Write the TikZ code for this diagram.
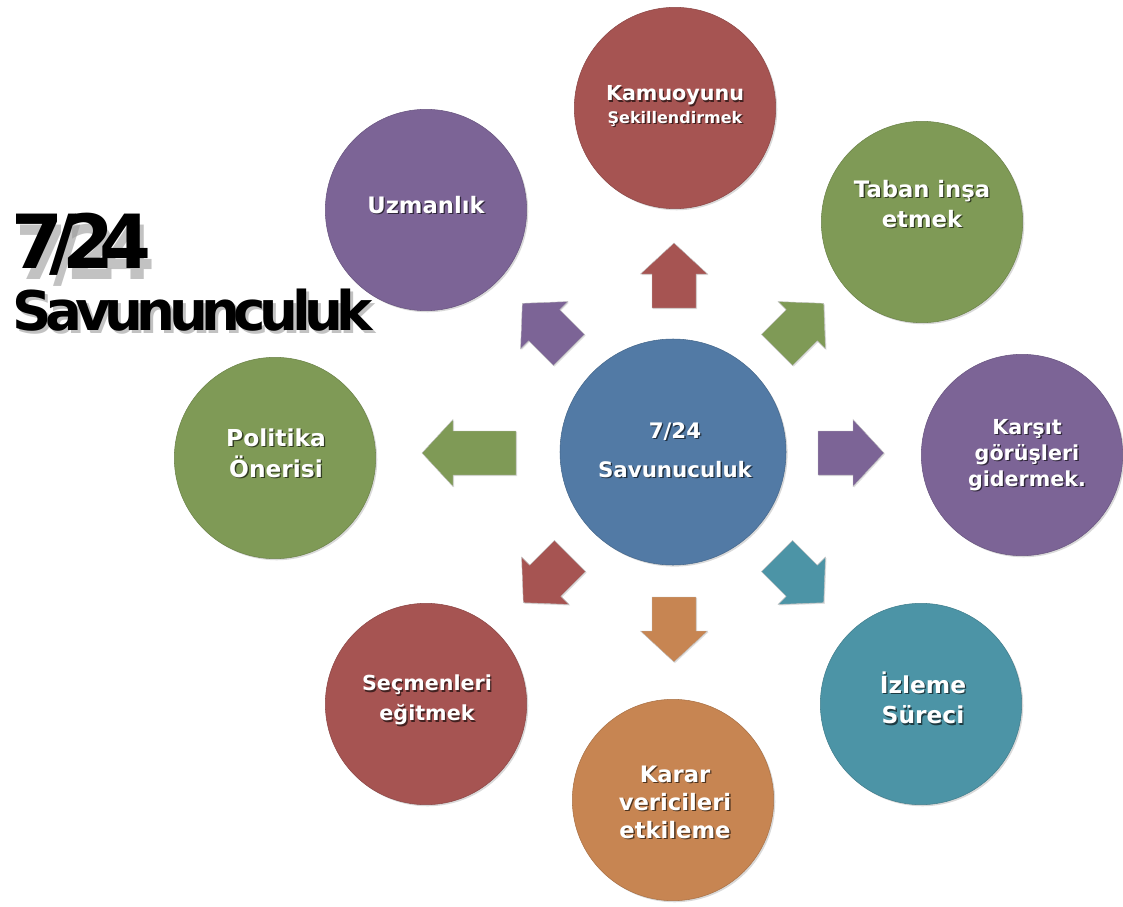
\documentclass[tikz,border=0pt]{standalone}
\usepackage{fontspec}
\setmainfont{DejaVu Sans}
\usetikzlibrary{shadows}
\definecolor{cblue}{RGB}{82,122,165}
\definecolor{cred}{RGB}{166,84,82}
\definecolor{cpurp}{RGB}{124,100,150}
\definecolor{cgreen}{RGB}{127,154,86}
\definecolor{cteal}{RGB}{76,148,166}
\definecolor{corange}{RGB}{199,133,82}
\newcommand{\ctext}[4][]{%
  \node[ctxt,#1,text=black,text opacity=0.6,xshift=1pt,yshift=-1.1pt] (#2s) at (#3) {#4};
  \node[ctxt,#1] (#2) at (#3) {#4};}
\newcommand{\tk}{\kern-.12em}
\newcommand{\tkk}{\kern-.19em}
\tikzset{
  circ/.style={circle, minimum size=151pt, inner sep=0pt, draw=#1!85!black, line width=0.4pt, fill=#1,
    drop shadow={opacity=0.3, shadow xshift=1.2pt, shadow yshift=-1.2pt}},
  ctxt/.style={text=white, font=\bfseries\fontsize{17}{22.5}\selectfont, align=center, inner sep=0pt},
  barrow/.pic={\path[pic actions, draw=black!25, line width=0.3pt, drop shadow={opacity=0.25, shadow xshift=0.8pt, shadow yshift=-0.8pt}]
     (0,-22) -- (#1-31,-22) -- (#1-31,-33.5) -- (#1,0) -- (#1-31,33.5) -- (#1-31,22) -- (0,22) -- cycle;}
}
\begin{document}
\begin{tikzpicture}[x=0.75pt,y=-0.75pt]
\useasboundingbox (0,0) rectangle (1123,906);

% title
\node[anchor=base west, inner sep=0pt, font=\bfseries\fontsize{56}{56}\selectfont, text=black!40, opacity=0.6] (titAs) at (15,279) {7\tkk/\tkk2\tkk4};
\node[anchor=base west, inner sep=0pt, font=\bfseries\fontsize{56}{56}\selectfont] (titA) at (11,268) {7\tkk/\tkk2\tkk4};
\node[anchor=base west, inner sep=0pt, font=\bfseries\fontsize{41}{41}\selectfont, text=black!40, opacity=0.6] (titBs) at (15,333) {S\tk a\tk v\tk u\tk n\tk u\tk n\tk c\tk u\tk l\tk u\tk k};
\node[anchor=base west, inner sep=0pt, font=\bfseries\fontsize{41}{41}\selectfont] (titB) at (12,330) {S\tk a\tk v\tk u\tk n\tk u\tk n\tk c\tk u\tk l\tk u\tk k};

% circles
\node[circ=cblue, minimum size=169.5pt] (cen) at (673,452) {};
\node[circ=cred] (kamu) at (675,108) {};
\node[circ=cpurp] (uzm) at (426,210) {};
\node[circ=cgreen] (tab) at (922,222) {};
\node[circ=cgreen] (pol) at (275,458) {};
\node[circ=cpurp] (kar) at (1022,455) {};
\node[circ=cred] (sec) at (426,704) {};
\node[circ=cteal] (izl) at (921,704) {};
\node[circ=corange] (krr) at (673,800) {};

% arrows
\pic (aU)  [rotate=90,   fill=cred]    at (674,308) {barrow=65};
\pic (aD)  [rotate=-90,  fill=corange] at (674,597) {barrow=65};
\pic (aL)  [rotate=180,  fill=cgreen]  at (516,453) {barrow=94};
\pic (aR)  [rotate=0,    fill=cpurp]   at (818,453) {barrow=66};
\pic (aNW) [rotate=135,  fill=cpurp]   at (569,350) {barrow=66};
\pic (aNE) [rotate=45,   fill=cgreen]  at (777,350) {barrow=66};
\pic (aSW) [rotate=-135, fill=cred]    at (570,556) {barrow=66};
\pic (aSE) [rotate=-45,  fill=cteal]   at (777,556) {barrow=66};

% texts
\ctext[font=\bfseries\fontsize{16}{29}\selectfont]{tcen}{675,450}{7/24\\Savunuculuk}
\ctext[font=\bfseries\fontsize{15.5}{17}\selectfont]{tkamu}{675,106}{Kamuoyunu\\{\fontsize{12}{17}\selectfont Şekillendirmek}}
\ctext{tuzm}{426,205}{Uzmanlık}
\ctext{ttab}{922,204}{Taban inşa\\etmek}
\ctext[font=\bfseries\fontsize{17.5}{23}\selectfont]{tpol}{276,453}{Politika\\Önerisi}
\ctext[font=\bfseries\fontsize{15.5}{19.5}\selectfont]{tkar}{1027,455}{Karşıt\\görüşleri\\gidermek.}
\ctext[font=\bfseries\fontsize{15.5}{22.5}\selectfont]{tsec}{427,700}{Seçmenleri\\eğitmek}
\ctext[font=\bfseries\fontsize{17.5}{23}\selectfont]{tizl}{923,698}{İzleme\\Süreci}
\ctext[font=\bfseries\fontsize{17}{21}\selectfont]{tkrr}{675,802}{Karar\\vericileri\\etkileme}
\end{tikzpicture}
\end{document}
